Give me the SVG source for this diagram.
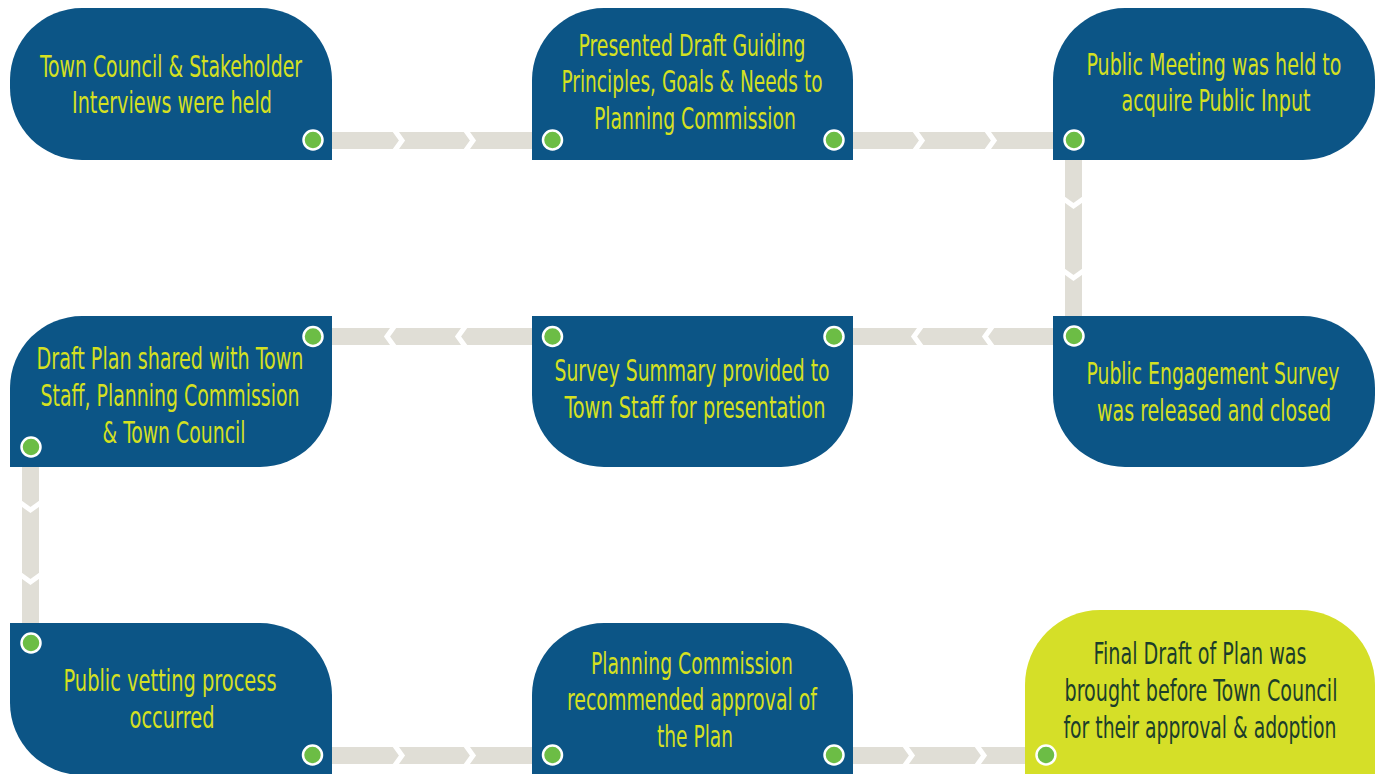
<svg xmlns="http://www.w3.org/2000/svg" width="1380" height="774" viewBox="0 0 1380 774">
<style>
.node{fill:#0c5586}
.final{fill:#d5df28}
.band{fill:#e0ded6}
.chev{fill:none;stroke:#ffffff;stroke-width:5;stroke-linejoin:miter}
.dot{fill:#6cbd45;stroke:#ffffff;stroke-width:2.5}
text{font-family:"Liberation Sans Narrow","DejaVu Sans Condensed","Liberation Sans",sans-serif;font-size:31px;text-anchor:middle;fill:#d5e021}
.final-t text{fill:#1b3d2b}
</style>
<rect width="1380" height="774" fill="#ffffff"/>
<g id="connectors">
  <rect class="band" x="325" y="132" width="215" height="17"/>
  <polyline class="chev" points="393,128 402,140.5 393,153"/>
  <polyline class="chev" points="464,128 473,140.5 464,153"/>
  <rect class="band" x="845" y="132" width="215" height="17"/>
  <polyline class="chev" points="913,128 922,140.5 913,153"/>
  <polyline class="chev" points="985,128 994,140.5 985,153"/>
  <rect class="band" x="1065" y="150" width="17" height="176"/>
  <polyline class="chev" points="1061,197 1073.5,206 1086,197"/>
  <polyline class="chev" points="1061,269 1073.5,278 1086,269"/>
  <rect class="band" x="845" y="328" width="215" height="17"/>
  <polyline class="chev" points="994,324 985,336.5 994,349"/>
  <polyline class="chev" points="923,324 914,336.5 923,349"/>
  <rect class="band" x="325" y="328" width="215" height="17"/>
  <polyline class="chev" points="467,324 458,336.5 467,349"/>
  <polyline class="chev" points="396,324 387,336.5 396,349"/>
  <rect class="band" x="22" y="460" width="17" height="170"/>
  <polyline class="chev" points="18,501 30.5,510 43,501"/>
  <polyline class="chev" points="18,573 30.5,582 43,573"/>
  <rect class="band" x="325" y="747" width="215" height="17"/>
  <polyline class="chev" points="393,743 402,755.5 393,768"/>
  <polyline class="chev" points="464,743 473,755.5 464,768"/>
  <rect class="band" x="845" y="747" width="190" height="17"/>
  <polyline class="chev" points="903,743 912,755.5 903,768"/>
  <polyline class="chev" points="975,743 984,755.5 975,768"/>
</g>
<g id="n1">
  <path class="node" d="M82 8H260A72 72 0 0 1 332 80V160H82A72 72 0 0 1 10 88V80A72 72 0 0 1 82 8Z"/>
  <text x="171" y="77" textLength="262" lengthAdjust="spacingAndGlyphs">Town Council &amp; Stakeholder</text>
  <text x="172" y="113" textLength="200" lengthAdjust="spacingAndGlyphs">Interviews were held</text>
  <circle class="dot" cx="313" cy="140" r="9.5"/>
</g>
<g id="n2">
  <path class="node" d="M604 8H781A72 72 0 0 1 853 80V160H532V80A72 72 0 0 1 604 8Z"/>
  <text x="692" y="56" textLength="227" lengthAdjust="spacingAndGlyphs">Presented Draft Guiding</text>
  <text x="692" y="92" textLength="261" lengthAdjust="spacingAndGlyphs">Principles, Goals &amp; Needs to</text>
  <text x="695" y="129" textLength="202" lengthAdjust="spacingAndGlyphs">Planning Commission</text>
  <circle class="dot" cx="552.5" cy="140" r="9.5"/>
  <circle class="dot" cx="834" cy="140" r="9.5"/>
</g>
<g id="n3">
  <path class="node" d="M1125 8H1303A72 72 0 0 1 1375 80V88A72 72 0 0 1 1303 160H1053V80A72 72 0 0 1 1125 8Z"/>
  <text x="1214" y="75" textLength="255" lengthAdjust="spacingAndGlyphs">Public Meeting was held to</text>
  <text x="1216" y="111" textLength="189" lengthAdjust="spacingAndGlyphs">acquire Public Input</text>
  <circle class="dot" cx="1074" cy="140" r="9.5"/>
</g>
<g id="n5">
  <path class="node" d="M1053 316H1303A72 72 0 0 1 1375 388V395A72 72 0 0 1 1303 467H1125A72 72 0 0 1 1053 395Z"/>
  <text x="1213" y="384" textLength="253" lengthAdjust="spacingAndGlyphs">Public Engagement Survey</text>
  <text x="1214" y="421" textLength="234" lengthAdjust="spacingAndGlyphs">was released and closed</text>
  <circle class="dot" cx="1074" cy="336" r="9.5"/>
</g>
<g id="n6">
  <path class="node" d="M532 316H853V395A72 72 0 0 1 781 467H604A72 72 0 0 1 532 395Z"/>
  <text x="692" y="381" textLength="275" lengthAdjust="spacingAndGlyphs">Survey Summary provided to</text>
  <text x="695" y="418" textLength="261" lengthAdjust="spacingAndGlyphs">Town Staff for presentation</text>
  <circle class="dot" cx="552.5" cy="336.5" r="9.5"/>
  <circle class="dot" cx="834" cy="336.5" r="9.5"/>
</g>
<g id="n4">
  <path class="node" d="M82 316H332V395A72 72 0 0 1 260 467H10V388A72 72 0 0 1 82 316Z"/>
  <text x="170" y="369" textLength="267" lengthAdjust="spacingAndGlyphs">Draft Plan shared with Town</text>
  <text x="170" y="406" textLength="259" lengthAdjust="spacingAndGlyphs">Staff, Planning Commission</text>
  <text x="174" y="443" textLength="143" lengthAdjust="spacingAndGlyphs">&amp; Town Council</text>
  <circle class="dot" cx="313" cy="336.5" r="9.5"/>
  <circle class="dot" cx="31" cy="447" r="9.5"/>
</g>
<g id="n7">
  <path class="node" d="M10 623H260A72 72 0 0 1 332 695V775H82A72 72 0 0 1 10 703Z"/>
  <text x="170" y="691" textLength="213" lengthAdjust="spacingAndGlyphs">Public vetting process</text>
  <text x="172" y="728" textLength="85" lengthAdjust="spacingAndGlyphs">occurred</text>
  <circle class="dot" cx="31" cy="643" r="9.5"/>
  <circle class="dot" cx="312.5" cy="755" r="9.5"/>
</g>
<g id="n8">
  <path class="node" d="M604 623H781A72 72 0 0 1 853 695V780H532V695A72 72 0 0 1 604 623Z"/>
  <text x="692" y="674" textLength="202" lengthAdjust="spacingAndGlyphs">Planning Commission</text>
  <text x="692" y="710" textLength="250" lengthAdjust="spacingAndGlyphs">recommended approval of</text>
  <text x="695" y="747" textLength="76" lengthAdjust="spacingAndGlyphs">the Plan</text>
  <circle class="dot" cx="552.5" cy="755" r="9.5"/>
  <circle class="dot" cx="834" cy="755" r="9.5"/>
</g>
<g id="n9" class="final-t">
  <path class="final" d="M1100 610H1300A75 75 0 0 1 1375 685V780H1025V685A75 75 0 0 1 1100 610Z"/>
  <text x="1200" y="664" textLength="213" lengthAdjust="spacingAndGlyphs">Final Draft of Plan was</text>
  <text x="1201" y="701" textLength="273" lengthAdjust="spacingAndGlyphs">brought before Town Council</text>
  <text x="1200" y="738" textLength="273" lengthAdjust="spacingAndGlyphs">for their approval &amp; adoption</text>
  <circle class="dot" cx="1046" cy="755" r="9.5"/>
</g>
</svg>
